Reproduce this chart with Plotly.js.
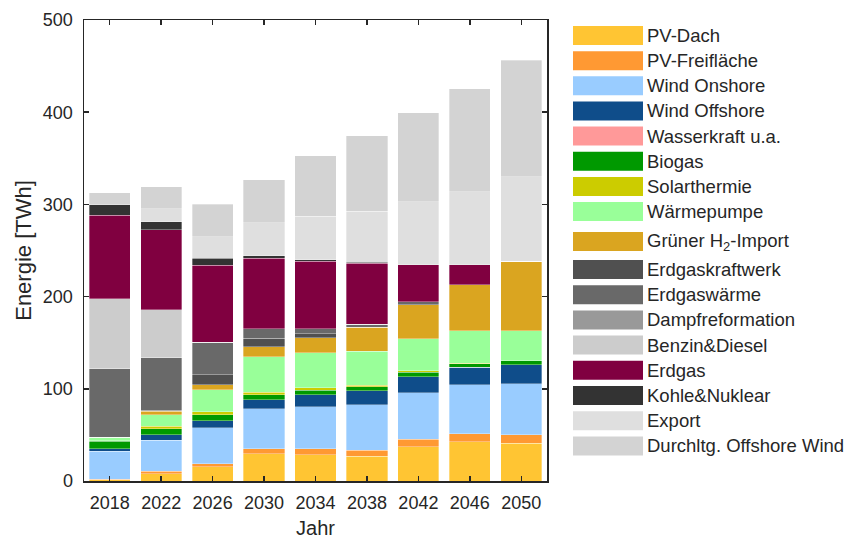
<!DOCTYPE html>
<html>
<head>
<meta charset="utf-8">
<script src="https://cdn.plot.ly/plotly-3.0.1.min.js"></script>
<style>html,body{margin:0;padding:0;background:#fff;}#chart{width:850px;height:539px;}</style>
</head>
<body>
<div id="chart"></div>
<script>
const years = ["2018","2022","2026","2030","2034","2038","2042","2046","2050"];

const seriesNames = ["PV-Dach","PV-Freifläche","Wind Onshore","Wind Offshore","Wasserkraft u.a.","Biogas","Solarthermie","Wärmepumpe","Grüner H<sub>2</sub>-Import","Erdgaskraftwerk","Erdgaswärme","Dampfreformation","Benzin&Diesel","Erdgas","Kohle&Nuklear","Export","Durchltg. Offshore Wind"];
const seriesColors = ["#FFC533","#FF9933","#99CCFF","#0F4D8A","#FF9999","#009900","#CCCC00","#99FF99","#DAA520","#505050","#696969","#999999","#CCCCCC","#800040","#333333","#DFDFDF","#D3D3D3"];

const pvDach        = [1.5, 8.1, 15.7, 29.8, 28.7, 26.9, 37.4, 42.4, 41.0];
const pvFrei        = [0.6, 2.5, 2.9, 5.1, 6.2, 6.5, 7.9, 8.7, 9.4];
const windOnshore   = [30.2, 33.6, 39.0, 43.6, 45.8, 49.2, 50.6, 53.1, 54.9];
const windOffshore  = [2.9, 5.8, 7.6, 9.8, 13.0, 15.4, 17.3, 19.1, 20.9];
const wasserkraft   = [0, 0, 0, 0, 0, 0, 0, 0, 0];
const biogas        = [7.9, 6.5, 6.8, 5.4, 4.7, 4.3, 4.7, 4.0, 4.1];
const solarthermie  = [0.7, 2.9, 3.0, 2.5, 2.6, 1.8, 1.8, 0.3, 0.3];
const waermepumpe   = [3.6, 12.6, 24.1, 38.7, 37.9, 36.9, 34.4, 35.2, 32.5];
const h2Import      = [0, 3.7, 5.4, 10.5, 16.6, 25.6, 37.1, 49.8, 75.1];
const erdgasKW      = [0, 1.0, 10.5, 9.3, 4.3, 0, 0, 0, 0];
const erdgasWaerme  = [74.7, 57.4, 35.4, 10.2, 5.1, 3.6, 3.3, 0, 0];
const dampfreform   = [0, 0, 0, 0, 0, 0, 0, 0, 0];
const benzinDiesel  = [75.8, 51.4, 0, 0, 0, 0, 0, 0, 0];
const erdgas        = [90.4, 87.0, 83.8, 76.9, 73.3, 65.8, 40.1, 22.0, 0];
const kohleNuklear  = [11.2, 8.6, 7.2, 2.5, 1.8, 1.5, 0, 0, 0];
const exportE       = [0, 14.1, 23.5, 35.8, 46.9, 55.2, 68.2, 79.0, 92.0];
const durchleitung  = [13.4, 24.2, 35.4, 46.5, 65.7, 81.6, 96.4, 111.6, 126.1];

const seriesValues = [pvDach,pvFrei,windOnshore,windOffshore,wasserkraft,biogas,solarthermie,waermepumpe,h2Import,erdgasKW,erdgasWaerme,dampfreform,benzinDiesel,erdgas,kohleNuklear,exportE,durchleitung];

const traces = seriesNames.map((n,i)=>({
  type:'bar', name:n, x:years, y:seriesValues[i],
  marker:{color:seriesColors[i], line:{color:'rgba(255,255,255,0.55)', width:0.6}},
  showlegend:false, hoverinfo:'name+y'
}));

// plot area geometry in pixels
const L=84, R=547, T=20, B=481;
const W=R-L, H=B-T;
const px = x => (x-L)/W;
const py = y => (B-y)/H;

const FONT = 'Liberation Sans, Arial, sans-serif';

// custom legend (large swatches like the reference)
const shapes=[], annotations=[];
seriesNames.forEach((n,i)=>{
  let top;
  if(i<8) top = 26 + 25.15*i;
  else if(i===8) top = 232;
  else top = 260 + 25.2*(i-9);
  shapes.push({type:'rect', xref:'paper', yref:'paper', x0:px(573), x1:px(643), y0:py(top+19), y1:py(top), fillcolor:seriesColors[i], line:{width:0}});
  annotations.push({xref:'paper', yref:'paper', x:px(645), y:py(top+9.5), xanchor:'left', yanchor:'middle', text:n, showarrow:false, font:{family:FONT, size:18.5, color:'#262626'}});
});

const layout = {
  width:850, height:539,
  margin:{l:L, r:850-R, t:T, b:539-B},
  paper_bgcolor:'#fff', plot_bgcolor:'#fff',
  barmode:'stack', bargap:0.2,
  font:{family:FONT, size:18, color:'#262626'},
  xaxis:{type:'category', range:[-0.5,8.5], showline:true, linecolor:'#262626', linewidth:1.5, mirror:'ticks', ticks:'inside', ticklen:5, tickwidth:1.5, tickcolor:'#262626', showgrid:false, zeroline:false, tickfont:{size:18}, ticklabelstandoff:5, title:{text:'Jahr', font:{size:20}, standoff:12}},
  yaxis:{range:[0,500], dtick:100, showline:true, linecolor:'#262626', linewidth:1.5, mirror:'ticks', ticks:'inside', ticklen:5, tickwidth:1.5, tickcolor:'#262626', showgrid:false, zeroline:false, tickfont:{size:18}, ticklabelstandoff:6, title:{text:'Energie [TWh]', font:{size:22}, standoff:5}},
  shapes:shapes, annotations:annotations
};

Plotly.newPlot('chart', traces, layout, {staticPlot:true});
</script>
</body>
</html>
